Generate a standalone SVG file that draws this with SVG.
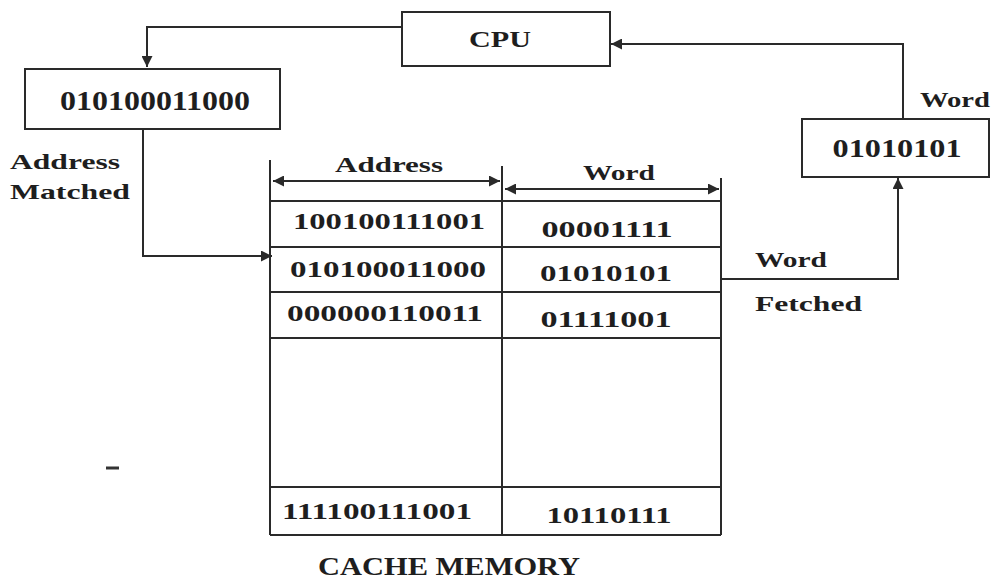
<svg xmlns="http://www.w3.org/2000/svg" width="992" height="582" viewBox="0 0 992 582">
<style>
.t{font-family:"Liberation Serif","Times New Roman",serif;font-weight:bold;fill:#1e1e1e}
.box{fill:#fff;stroke:#2a2a2a;stroke-width:2}
.ln{fill:none;stroke:#2a2a2a;stroke-width:2}
.c{fill:none;stroke:#2a2a2a;stroke-width:2}
</style>
<defs>
<marker id="ah" viewBox="0 0 10 10" refX="10" refY="5" markerWidth="14" markerHeight="11" markerUnits="userSpaceOnUse" orient="auto-start-reverse">
<path d="M0,0 L10,5 L0,10 z" fill="#2a2a2a"/>
</marker>
</defs>
<rect width="992" height="582" fill="#fff"/>

<g id="cpu">
<rect class="box" x="402" y="12" width="208" height="54"/>
<text class="t" x="500" y="47" font-size="24" text-anchor="middle" textLength="62" lengthAdjust="spacingAndGlyphs">CPU</text>
</g>

<g id="address-register">
<rect class="box" x="25" y="69" width="255" height="60"/>
<text class="t" x="155" y="110" font-size="27" text-anchor="middle" textLength="190" lengthAdjust="spacingAndGlyphs">010100011000</text>
</g>

<g id="word-register">
<rect class="box" x="802" y="119" width="187" height="58"/>
<text class="t" x="897" y="157" font-size="25" text-anchor="middle" textLength="129" lengthAdjust="spacingAndGlyphs">01010101</text>
</g>

<g id="labels">
<text class="t" x="10" y="169" font-size="21" textLength="110" lengthAdjust="spacingAndGlyphs">Address</text>
<text class="t" x="10" y="199" font-size="21" textLength="120" lengthAdjust="spacingAndGlyphs">Matched</text>
<text class="t" x="920" y="107" font-size="21" textLength="70" lengthAdjust="spacingAndGlyphs">Word</text>
<text class="t" x="755" y="267" font-size="21" textLength="72" lengthAdjust="spacingAndGlyphs">Word</text>
<text class="t" x="755" y="311" font-size="21" textLength="107" lengthAdjust="spacingAndGlyphs">Fetched</text>
</g>

<g id="cache-memory">
<line class="ln" x1="270" y1="160" x2="270" y2="535"/>
<line class="ln" x1="502" y1="166" x2="502" y2="535"/>
<line class="ln" x1="721" y1="178" x2="721" y2="535"/>
<line class="ln" x1="270" y1="201" x2="721" y2="201"/>
<line class="ln" x1="270" y1="247" x2="721" y2="247"/>
<line class="ln" x1="270" y1="292" x2="721" y2="292"/>
<line class="ln" x1="270" y1="338" x2="721" y2="338"/>
<line class="ln" x1="270" y1="487" x2="721" y2="487"/>
<line class="ln" x1="270" y1="535" x2="721" y2="535"/>
<line class="ln" x1="273" y1="181" x2="500" y2="181" marker-start="url(#ah)" marker-end="url(#ah)"/>
<line class="ln" x1="505" y1="189" x2="719" y2="189" marker-start="url(#ah)" marker-end="url(#ah)"/>
<text class="t" x="389" y="172" font-size="22" text-anchor="middle" textLength="108" lengthAdjust="spacingAndGlyphs">Address</text>
<text class="t" x="619" y="180" font-size="22" text-anchor="middle" textLength="72" lengthAdjust="spacingAndGlyphs">Word</text>
<text class="t" x="389" y="229" font-size="24" text-anchor="middle" textLength="192" lengthAdjust="spacingAndGlyphs">100100111001</text>
<text class="t" x="607" y="237" font-size="24" text-anchor="middle" textLength="131" lengthAdjust="spacingAndGlyphs">00001111</text>
<text class="t" x="388" y="277" font-size="24" text-anchor="middle" textLength="196" lengthAdjust="spacingAndGlyphs">010100011000</text>
<text class="t" x="606" y="281" font-size="24" text-anchor="middle" textLength="132" lengthAdjust="spacingAndGlyphs">01010101</text>
<text class="t" x="385" y="321" font-size="24" text-anchor="middle" textLength="196" lengthAdjust="spacingAndGlyphs">000000110011</text>
<text class="t" x="606" y="327" font-size="24" text-anchor="middle" textLength="131" lengthAdjust="spacingAndGlyphs">01111001</text>
<text class="t" x="377" y="519" font-size="24" text-anchor="middle" textLength="190" lengthAdjust="spacingAndGlyphs">111100111001</text>
<text class="t" x="609" y="523" font-size="24" text-anchor="middle" textLength="125" lengthAdjust="spacingAndGlyphs">10110111</text>
<text class="t" x="449" y="575" font-size="26" text-anchor="middle" textLength="262" lengthAdjust="spacingAndGlyphs">CACHE MEMORY</text>
</g>

<g id="connectors">
<path class="c" d="M402,27 H147 V67" marker-end="url(#ah)"/>
<path class="c" d="M143,129 V256 H272" marker-end="url(#ah)"/>
<path class="c" d="M721,279 H898 V178" marker-end="url(#ah)"/>
<path class="c" d="M903,119 V44 H611" marker-end="url(#ah)"/>
</g>

<line x1="106" y1="468" x2="119" y2="468" stroke="#333" stroke-width="3"/>
</svg>
